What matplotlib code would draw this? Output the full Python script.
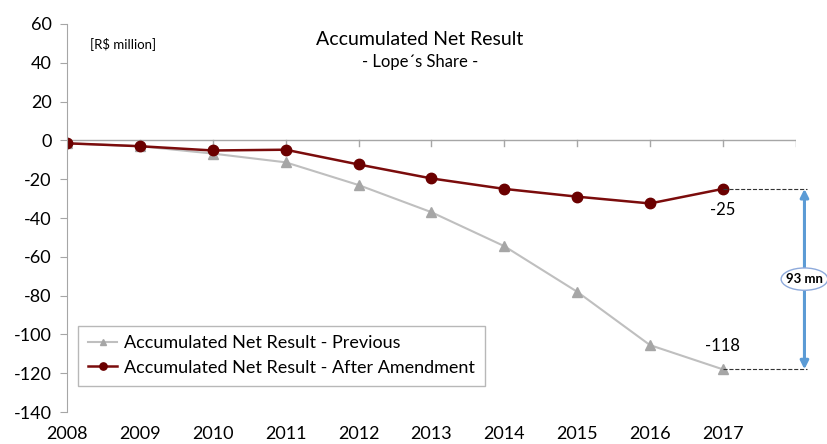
import matplotlib.pyplot as plt
from matplotlib.patches import Ellipse

years = [2008, 2009, 2010, 2011, 2012, 2013, 2014, 2015, 2016, 2017]
previous = [-1.5, -3.0, -6.8, -11.3, -23.0, -37.0, -54.5, -78.0, -105.5, -118.0]
after = [-1.5, -3.0, -5.2, -4.8, -12.4, -19.6, -25.0, -29.0, -32.5, -25.0]
yticks = [60, 40, 20, 0, -20, -40, -60, -80, -100, -120, -140]

plt.rcParams['font.family'] = ['Lato', 'DejaVu Sans']

fig = plt.figure(figsize=(8.28, 4.44), dpi=100)
ax = fig.add_axes([0.081, 0.072, 0.88, 0.874])

ax.plot(years, previous, color='#bfbfbf', lw=1.5, marker='^', ms=7,
        mec='#a6a6a6', mfc='#a6a6a6', label='Accumulated Net Result - Previous')
ax.plot(years, after, color='#7b0c0c', lw=1.8, marker='o', ms=7.5,
        mec='#6b0000', mfc='#6b0000', label='Accumulated Net Result - After Amendment')

ax.set_xlim(2008, 2018)
ax.set_ylim(-140, 60)
ax.set_yticks(yticks)
ax.set_yticklabels([str(v) for v in yticks], fontsize=13)
ax.set_xticks(years)
ax.set_xticklabels([str(y) for y in years], fontsize=13)

# x axis sits at zero, labels stay at the bottom
for s in ['top', 'right', 'bottom']:
    ax.spines[s].set_visible(False)
ax.spines['left'].set_color('#a6a6a6')
ax.axhline(0, color='#a6a6a6', lw=1, zorder=1)
for y in years[1:] + [2018]:
    ax.plot([y, y], [0, -3], color='#a6a6a6', lw=1, zorder=1)
ax.tick_params(axis='x', length=0, pad=10)
ax.tick_params(axis='y', color='#a6a6a6', length=5, pad=6)

# annotation for the last year
ax.plot([2017, 2018.15], [after[-1], after[-1]], ls='--', color='#333333', lw=0.8, clip_on=False)
ax.plot([2017, 2018.15], [previous[-1], previous[-1]], ls='--', color='#333333', lw=0.8, clip_on=False)
ax.annotate('', xy=(2018.12, after[-1]), xytext=(2018.12, previous[-1]),
            arrowprops=dict(arrowstyle='<|-|>', color='#5b9bd5', lw=2.2,
                            mutation_scale=12, shrinkA=0, shrinkB=0),
            annotation_clip=False)
ax.add_patch(Ellipse((2018.12, -71.5), 0.64, 11.5, facecolor='white',
                     edgecolor='#8eaadb', lw=1, clip_on=False, zorder=5))
ax.text(2018.12, -71.5, '93 mn', ha='center', va='center', fontsize=9.5,
        fontweight='bold', zorder=6, clip_on=False)
ax.text(2017, after[-1] - 11, str(int(after[-1])), ha='center', va='center', fontsize=12)
ax.text(2017, previous[-1] + 12, str(int(previous[-1])), ha='center', va='center', fontsize=12)

ax.text(2008.32, 50, '[R$ million]', fontsize=9.5, va='center')
ax.text(2012.84, 52, 'Accumulated Net Result', fontsize=14, ha='center', va='center')
ax.text(2012.84, 40.5, '- Lope\u00b4s Share -', fontsize=12, ha='center', va='center')

ax.legend(loc='lower left', bbox_to_anchor=(0.003, 0.045), fontsize=13,
          frameon=True, fancybox=False, edgecolor='#a6a6a6', borderpad=0.55,
          labelspacing=0.45, handlelength=1.6, handletextpad=0.4, markerscale=0.7)

fig.savefig('out.png', dpi=100)
